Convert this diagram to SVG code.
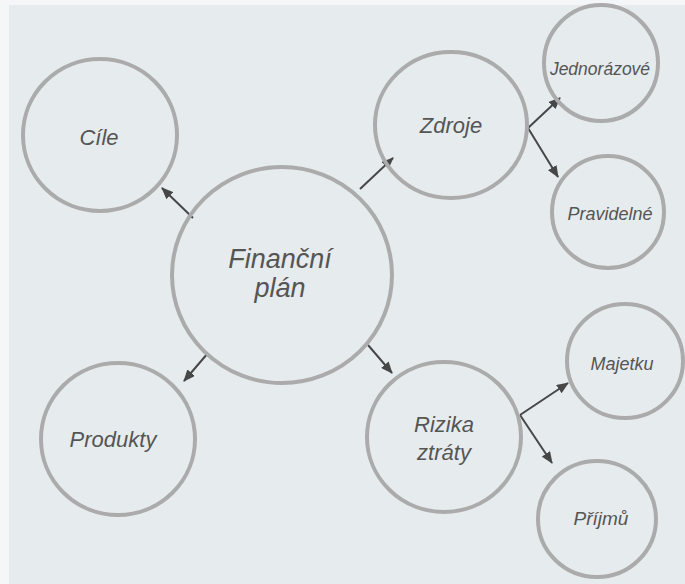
<svg xmlns="http://www.w3.org/2000/svg" width="685" height="584" viewBox="0 0 685 584">
  <style>
    .node ellipse { fill: none; stroke: #ababab; stroke-width: 4; }
    .node text { font-family: "Liberation Sans", Arial, sans-serif; font-style: italic; fill: #555555; text-anchor: middle; }
    .edge { fill: none; stroke: #474747; stroke-width: 2; marker-end: url(#head); }
  </style>
  <defs>
    <marker id="head" markerUnits="userSpaceOnUse" markerWidth="12" markerHeight="10" refX="11" refY="5" orient="auto">
      <path d="M0,0 L12,5 L0,10 Z" fill="#474747"/>
    </marker>
  </defs>

  <!-- paper -->
  <rect x="0" y="0" width="685" height="584" fill="#f4f6f7"/>
  <rect x="9" y="5" width="676" height="579" fill="#e6ebee"/>

  <g id="connectors">
    <path class="edge" d="M193,218 L162,188"/>
    <path class="edge" d="M360,189 L393,158"/>
    <path class="edge" d="M208,353 L184,381"/>
    <path class="edge" d="M368,345 L392,373"/>
    <path class="edge" d="M528,128 L560,98"/>
    <path class="edge" d="M528,128 L558,177"/>
    <path class="edge" d="M520,415 L568,383"/>
    <path class="edge" d="M520,415 L552,463"/>
  </g>

  <g id="cile" class="node">
    <ellipse cx="100" cy="135" rx="77" ry="76"/>
    <text x="99" y="145" font-size="22">Cíle</text>
  </g>

  <g id="financni-plan" class="node">
    <ellipse cx="282" cy="275" rx="110" ry="108"/>
    <text x="280" y="268" font-size="27">Finanční</text>
    <text x="280" y="297" font-size="27">plán</text>
  </g>

  <g id="zdroje" class="node">
    <ellipse cx="451" cy="125" rx="76" ry="73"/>
    <text x="451" y="133" font-size="22">Zdroje</text>
  </g>

  <g id="jednorazove" class="node">
    <ellipse cx="601" cy="63" rx="57" ry="58"/>
    <text x="600" y="75" font-size="17.5">Jednorázové</text>
  </g>

  <g id="pravidelne" class="node">
    <ellipse cx="608" cy="212" rx="56" ry="56"/>
    <text x="610" y="220" font-size="18">Pravidelné</text>
  </g>

  <g id="produkty" class="node">
    <ellipse cx="118" cy="439" rx="77" ry="76"/>
    <text x="113" y="447" font-size="22">Produkty</text>
  </g>

  <g id="rizika-ztraty" class="node">
    <ellipse cx="444" cy="437" rx="77" ry="75"/>
    <text x="444" y="432" font-size="22">Rizika</text>
    <text x="444" y="460" font-size="22">ztráty</text>
  </g>

  <g id="majetku" class="node">
    <ellipse cx="625" cy="361" rx="58" ry="57"/>
    <text x="622" y="370" font-size="18">Majetku</text>
  </g>

  <g id="prijmu" class="node">
    <ellipse cx="597" cy="519" rx="59" ry="58"/>
    <text x="601" y="525" font-size="19">Příjmů</text>
  </g>
</svg>
